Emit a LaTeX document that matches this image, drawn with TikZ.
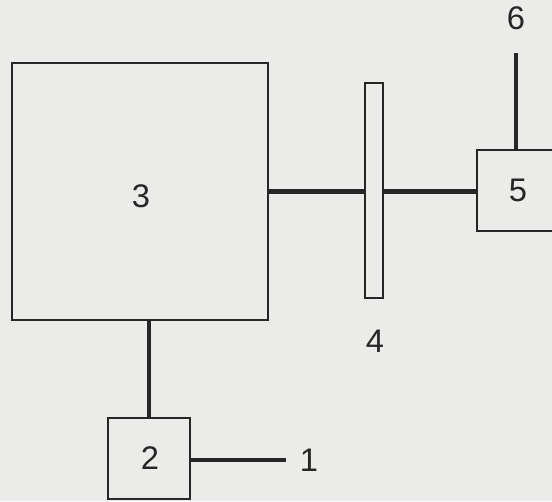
\documentclass[tikz,border=0pt]{standalone}
\usepackage{fontspec}
\setmainfont{Liberation Sans}
\definecolor{paper}{RGB}{235,235,233}
\definecolor{ink}{RGB}{38,38,38}
\begin{document}
\begin{tikzpicture}[x=0.75pt,y=-0.75pt,
  unit/.style={draw=ink, line width=1.6pt, inner sep=0pt},
  link/.style={draw=ink, line width=3.4pt},
  tag/.style={text=ink, font=\fontsize{24.5}{24.5}\selectfont, inner sep=0pt}]
  \useasboundingbox (0,0) rectangle (552,501);
  \clip (0,0) rectangle (552,501);
  \fill[paper] (0,0) rectangle (552,501);

  % apparatus blocks
  \node[unit, minimum width=192pt, minimum height=192.75pt] (box3) at (140,191.5) {};
  \node[unit, minimum width=13.5pt, minimum height=161.25pt] (rod) at (374,190.5) {};
  \node[unit, minimum width=150pt, minimum height=60.75pt] (box5) at (577,190.5) {};
  \node[unit, minimum width=61.5pt, minimum height=60.75pt] (box2) at (149,458.5) {};

  % free line ends
  \coordinate (top6) at (516,53);
  \coordinate (end1) at (286,460);

  % connecting lines
  \draw[link] (box3.east) -- (box3.east -| rod.west);
  \draw[link] (rod.east |- box3.east) -- (box5.west |- box3.east);
  \draw[link] (box2.north |- box3.south) -- (box2.north);
  \draw[link] (top6) -- (top6 |- box5.north);
  \draw[link] (box2.east |- end1) -- (end1);

  % part numbers
  \node[tag] (n3) at (141,196) {3};
  \node[tag] (n4) at (375,341) {4};
  \node[tag] (n5) at (518,190) {5};
  \node[tag] (n6) at (516,18) {6};
  \node[tag] (n2) at (150,458) {2};
  \node[tag] (n1) at (309,460) {1};
\end{tikzpicture}
\end{document}
